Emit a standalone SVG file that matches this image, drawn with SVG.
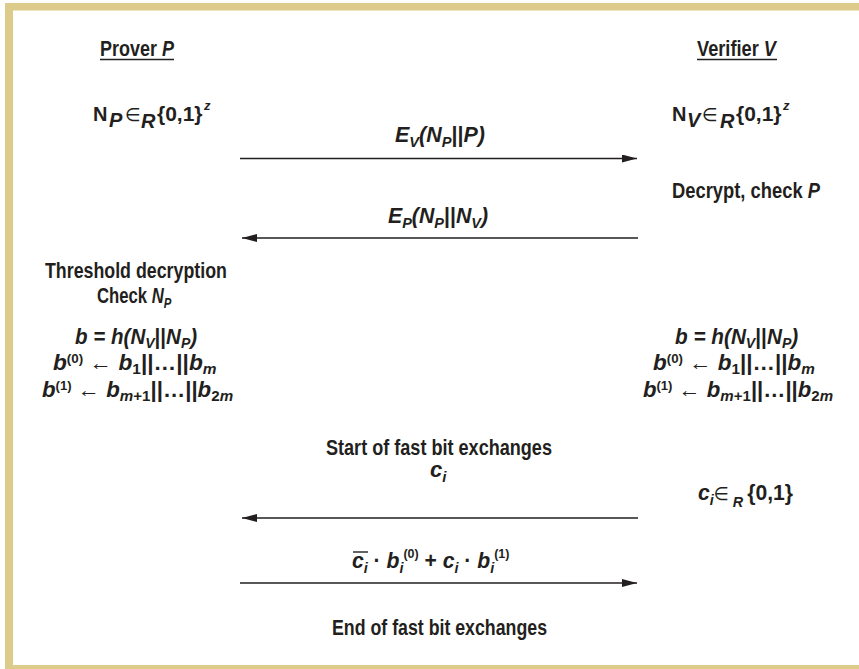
<svg xmlns="http://www.w3.org/2000/svg" width="859" height="669" viewBox="0 0 859 669">
<defs>
<style>
text{font-family:"Liberation Sans","DejaVu Sans",Arial,sans-serif;font-weight:bold;font-size:22px;fill:#231f20}
.i{font-style:italic}
.u{font-style:normal}
.s{font-size:15px}
.t{font-size:13px}
.n{font-weight:normal}
.frame{fill:#dccb8a}
.ul{stroke:#231f20;stroke-width:1.4}
#connectors line{stroke:#231f20;stroke-width:1.4}
</style>
<marker id="ah" markerUnits="userSpaceOnUse" markerWidth="16" markerHeight="10" refX="15" refY="4" orient="auto"><path d="M0,0 L15,4 L0,8 Z" fill="#231f20"/></marker>
</defs>
<rect width="859" height="669" fill="#fff"/>
<g id="frame">
<rect class="frame" x="5" y="3" width="854" height="7.5"/>
<rect class="frame" x="5" y="3" width="8" height="666"/>
<rect class="frame" x="5" y="665" width="854" height="4"/>
</g>

<g id="prover">
<text transform="translate(100,56) scale(0.818,1)">Prover <tspan class="i">P</tspan></text>
<line class="ul" x1="100" y1="59.5" x2="174" y2="59.5"/>
</g>
<g id="verifier">
<text transform="translate(697,56) scale(0.828,1)">Verifier <tspan class="i">V</tspan></text>
<line class="ul" x1="697" y1="59.5" x2="777" y2="59.5"/>
</g>

<g id="prover-nonce">
<text x="93" y="121" style="font-size:20px">N</text>
<text x="109" y="127" class="i" style="font-size:20px">P</text>
<text x="125" y="121" class="n" style="font-size:18px">∈</text>
<text x="141" y="128" class="i" style="font-size:20px">R</text>
<text x="157" y="121" style="font-size:21px">{0,1}</text>
<text x="204" y="110" class="i" style="font-size:13px">z</text>
</g>
<g id="verifier-nonce">
<text x="672" y="121" style="font-size:20px">N</text>
<text x="687" y="127" class="i" style="font-size:20px">V</text>
<text x="702" y="121" class="n" style="font-size:18px">∈</text>
<text x="720" y="128" class="i" style="font-size:20px">R</text>
<text x="736" y="121" style="font-size:21px">{0,1}</text>
<text x="783" y="110" class="i" style="font-size:13px">z</text>
</g>

<g id="msg1-label">
<text transform="translate(395,142) scale(0.976,1)" class="i">E<tspan class="s" dy="5">V</tspan><tspan dy="-5">(N</tspan><tspan class="s" dy="5">P</tspan><tspan dy="-5" class="u">||</tspan>P)</text>
</g>
<g id="msg2-label">
<text transform="translate(388,223) scale(0.967,1)" class="i">E<tspan class="s" dy="5">P</tspan><tspan dy="-5">(N</tspan><tspan class="s" dy="5">P</tspan><tspan dy="-5" class="u">||</tspan>N<tspan class="s" dy="5">V</tspan><tspan dy="-5">)</tspan></text>
</g>

<g id="verifier-decrypt">
<text transform="translate(672,198) scale(0.835,1)">Decrypt, check <tspan class="i">P</tspan></text>
</g>

<g id="prover-threshold">
<text transform="translate(45,278) scale(0.809,1)">Threshold decryption</text>
<text transform="translate(97,303) scale(0.76,1)">Check <tspan class="i">N</tspan><tspan class="i s" dy="5">P</tspan></text>
</g>

<g id="prover-bits">
<text transform="translate(75,344) scale(0.935,1)" class="i">b = h(N<tspan class="s" dy="4">V</tspan><tspan dy="-4" class="u">||</tspan>N<tspan class="s" dy="4">P</tspan><tspan dy="-4">)</tspan></text>
<text transform="translate(53,370) scale(1.03,1)" class="i">b<tspan class="t u" dy="-7">(0)</tspan><tspan dy="7" class="u n"> ← </tspan>b<tspan class="s u" dy="4">1</tspan><tspan dy="-4" class="u">||…||</tspan>b<tspan class="s" dy="4">m</tspan></text>
<text transform="translate(42,397) scale(1.01,1)" class="i">b<tspan class="t u" dy="-7">(1)</tspan><tspan dy="7" class="u n"> ← </tspan>b<tspan class="s" dy="4">m</tspan><tspan class="s u">+1</tspan><tspan dy="-4" class="u">||…||</tspan>b<tspan class="s u" dy="4">2</tspan><tspan class="s">m</tspan></text>
</g>

<g id="verifier-bits">
<text transform="translate(675,344) scale(0.943,1)" class="i">b = h(N<tspan class="s" dy="4">V</tspan><tspan dy="-4" class="u">||</tspan>N<tspan class="s" dy="4">P</tspan><tspan dy="-4">)</tspan></text>
<text transform="translate(653,370) scale(1.02,1)" class="i">b<tspan class="t u" dy="-7">(0)</tspan><tspan dy="7" class="u n"> ← </tspan>b<tspan class="s u" dy="4">1</tspan><tspan dy="-4" class="u">||…||</tspan>b<tspan class="s" dy="4">m</tspan></text>
<text transform="translate(643,397) scale(1.005,1)" class="i">b<tspan class="t u" dy="-7">(1)</tspan><tspan dy="7" class="u n"> ← </tspan>b<tspan class="s" dy="4">m</tspan><tspan class="s u">+1</tspan><tspan dy="-4" class="u">||…||</tspan>b<tspan class="s u" dy="4">2</tspan><tspan class="s">m</tspan></text>
</g>

<g id="start-fast">
<text transform="translate(326,455) scale(0.822,1)">Start of fast bit exchanges</text>
<text x="430" y="477" class="i">c<tspan class="s" dy="5">i</tspan></text>
</g>

<g id="verifier-challenge">
<text transform="translate(698,500) scale(0.96,1)" class="i">c<tspan class="s" dy="5">i</tspan><tspan dy="-5" class="u n" style="font-size:18px">∈</tspan><tspan class="s" dy="7"> R </tspan><tspan dy="-7" class="u"> {0,1}</tspan></text>
</g>

<g id="response-label">
<text transform="translate(352,568) scale(0.96,1)" class="i">c<tspan class="s" dy="5">i</tspan><tspan dy="-5" class="u"> · </tspan>b<tspan class="s" dy="5">i</tspan><tspan class="t u" dy="-15">(0)</tspan><tspan dy="10" class="u"> + </tspan>c<tspan class="s" dy="5">i</tspan><tspan dy="-5" class="u"> · </tspan>b<tspan class="s" dy="5">i</tspan><tspan class="t u" dy="-15">(1)</tspan></text>
<line class="ul" x1="353" y1="552" x2="368" y2="552"/>
</g>

<g id="end-fast">
<text transform="translate(332,635) scale(0.807,1)">End of fast bit exchanges</text>
</g>

<g id="connectors">
<line x1="240" y1="158.5" x2="637" y2="158.5" marker-end="url(#ah)"/>
<line x1="638" y1="238" x2="242" y2="238" marker-end="url(#ah)"/>
<line x1="638" y1="518" x2="242" y2="518" marker-end="url(#ah)"/>
<line x1="240" y1="583" x2="637" y2="583" marker-end="url(#ah)"/>
</g>
</svg>
